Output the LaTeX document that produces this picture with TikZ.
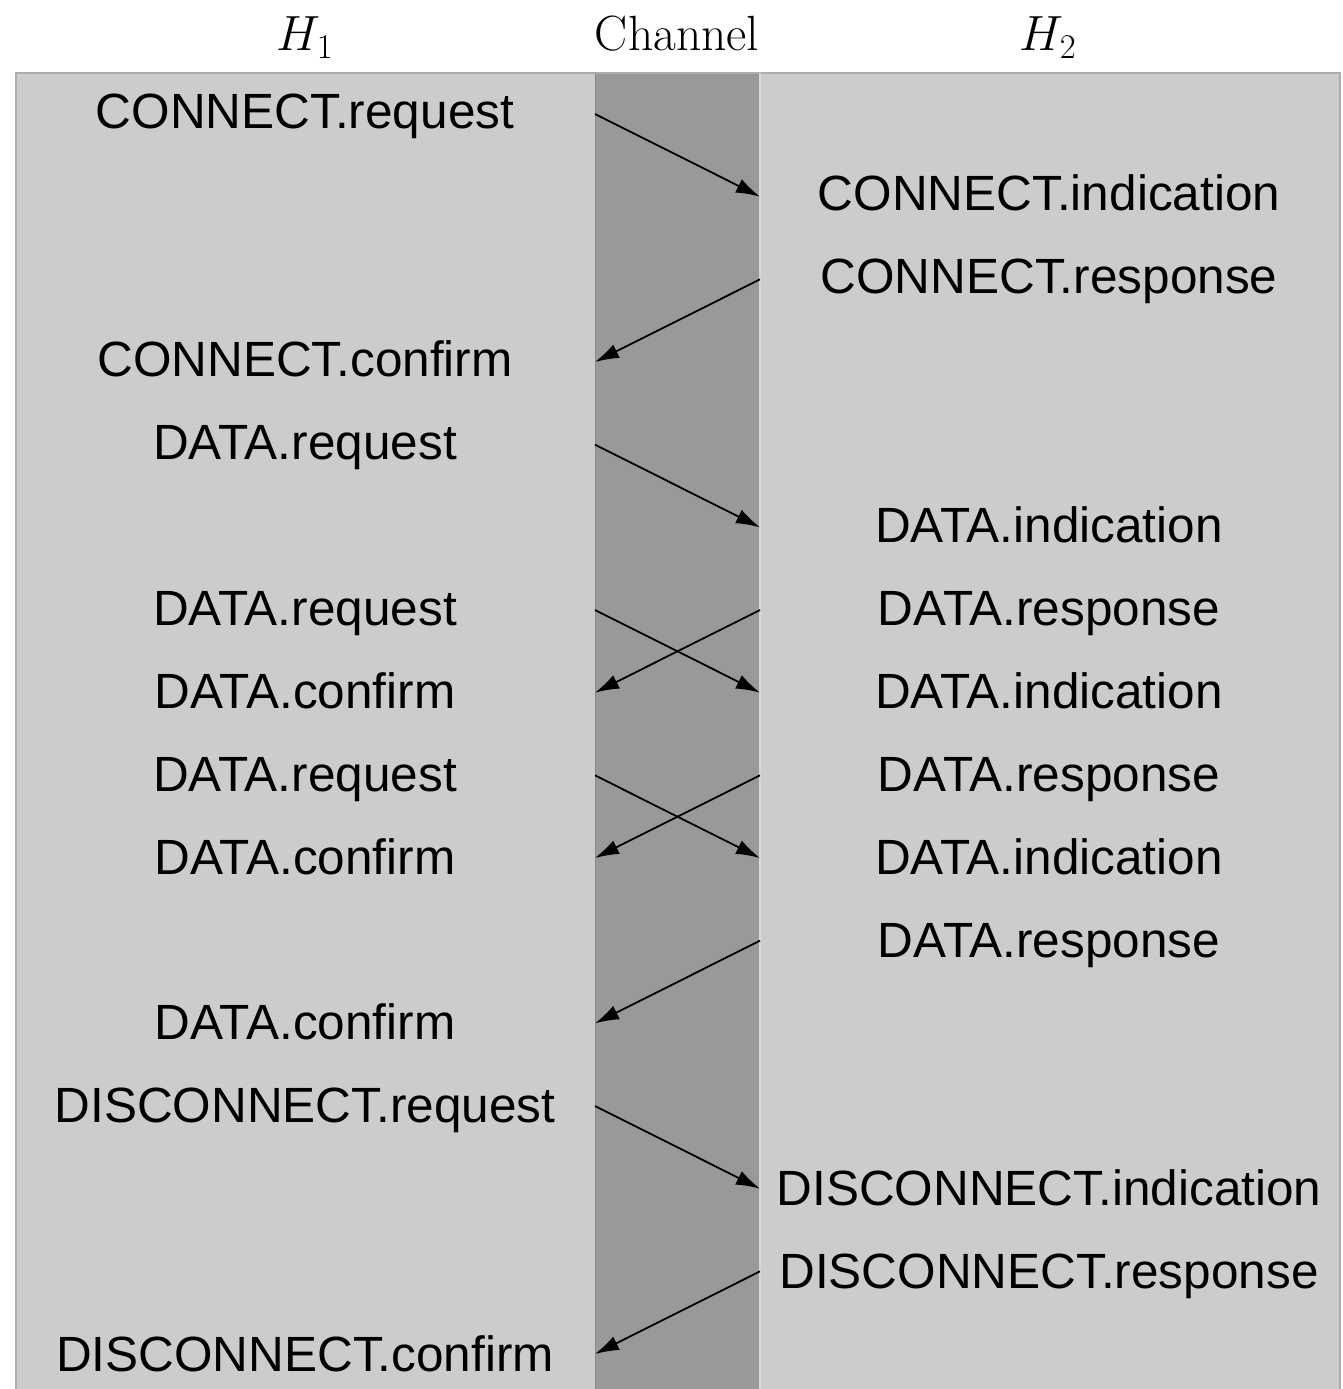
\RequirePackage{fix-cm}
\documentclass[tikz,border=0pt]{standalone}
\usepackage{fontspec}
\setsansfont{Liberation Sans}
\usetikzlibrary{arrows.meta}
\definecolor{panel}{gray}{0.8}
\definecolor{chan}{gray}{0.6}
\definecolor{edge}{gray}{0.68}
\tikzset{
  lbl/.style={inner sep=0pt, anchor=base, font=\sffamily\fontsize{49.5}{59}\selectfont},
  hdr/.style={inner sep=0pt, anchor=base, font=\rmfamily\fontsize{49.5}{59}\selectfont},
  msg/.style={line width=1.8pt, -{Latex[length=24pt,width=15pt]}},
}
\begin{document}
\begin{tikzpicture}[x=1pt,y=-1pt]
\useasboundingbox (0,0) rectangle (1343,1389);
\fill[white] (0,0) rectangle (1343,1389);
% panels
\fill[panel] (15,72) rectangle (1341,1395);
\fill[chan] (595,72) rectangle (760,1395);
\draw[edge,line width=2pt] (16,1395) -- (16,73) -- (1340,73) -- (1340,1395);
\draw[gray!55!black!70,line width=1.5pt,opacity=0.5] (595.5,73) -- (595.5,1395);
\draw[gray!30,line width=1.5pt] (760,73) -- (760,1395);
% headers
\node[hdr] (h1) at (305,51) {$H_1$};
\node[hdr] (ch) at (677,51) {Channel};
\node[hdr] (h2) at (1048,51) {$H_2$};
% rows
\foreach \i in {0,...,15}{
  \coordinate (L\i) at (595,{114+82.667*\i});
  \coordinate (R\i) at (760,{114+82.667*\i});
}
\newcommand\lefttxt[3]{\node[lbl] (#1) at (305,{128+82.9*#2}) {#3};}
\newcommand\righttxt[3]{\node[lbl] (#1) at (1049,{128+82.9*#2}) {#3};}
\lefttxt{a0}{0}{CONNECT.request}
\righttxt{b1}{1}{CONNECT.indication}
\righttxt{b2}{2}{CONNECT.response}
\lefttxt{a3}{3}{CONNECT.confirm}
\lefttxt{a4}{4}{DATA.request}
\righttxt{b5}{5}{DATA.indication}
\lefttxt{a6}{6}{DATA.request}
\righttxt{b6}{6}{DATA.response}
\lefttxt{a7}{7}{DATA.confirm}
\righttxt{b7}{7}{DATA.indication}
\lefttxt{a8}{8}{DATA.request}
\righttxt{b8}{8}{DATA.response}
\lefttxt{a9}{9}{DATA.confirm}
\righttxt{b9}{9}{DATA.indication}
\righttxt{b10}{10}{DATA.response}
\lefttxt{a11}{11}{DATA.confirm}
\lefttxt{a12}{12}{DISCONNECT.request}
\righttxt{b13}{13}{DISCONNECT.indication}
\righttxt{b14}{14}{DISCONNECT.response}
\lefttxt{a15}{15}{DISCONNECT.confirm}
% arrows
\draw[msg] (L0) -- (R1);
\draw[msg] (R2) -- (L3);
\draw[msg] (L4) -- (R5);
\draw[msg] (L6) -- (R7);
\draw[msg] (R6) -- (L7);
\draw[msg] (L8) -- (R9);
\draw[msg] (R8) -- (L9);
\draw[msg] (R10) -- (L11);
\draw[msg] (L12) -- (R13);
\draw[msg] (R14) -- (L15);
\end{tikzpicture}
\end{document}
